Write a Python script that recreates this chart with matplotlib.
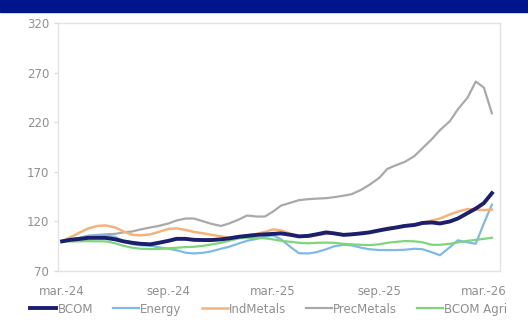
import matplotlib
matplotlib.use("Agg")
import matplotlib.pyplot as plt
import matplotlib.patches as mpatches
import pandas as pd

# semi-monthly observations, rebased to 100 at mar-24
dates = pd.date_range("2024-03-01", periods=50, freq="SMS")

bcom = [100, 101.5, 102.5, 103.5, 103.5, 103.5, 102, 100, 98.5, 97.5,
        97, 98.5, 100.5, 102.5, 102.5, 101.5, 101.3, 101.3, 102, 103,
        104.6, 105.5, 106.5, 107, 107.5, 108, 106.5, 105, 105.5, 107,
        109, 108, 106.5, 107, 108, 109, 111, 112.5, 114, 115.5,
        116.5, 118.5, 119, 118, 120, 123, 128.5, 133, 138.5, 148.5]
energy = [100, 102, 103.5, 105.5, 106, 106, 104.5, 100, 97, 96,
          95.5, 94, 92.5, 91, 88.5, 87.8, 88.5, 90, 92.5, 94.5,
          97.9, 100.5, 102.5, 104.5, 106, 102, 94, 88, 87.8, 89,
          92, 95, 96.5, 96, 93.5, 92, 91.2, 91.2, 91.2, 91.5,
          92.5, 92, 89, 86, 94, 101, 99, 97.5, 118, 137]
ind_metals = [100, 104, 109, 113, 115.5, 116, 114, 110, 106.5, 106,
              107, 109.5, 112.5, 113, 111.5, 109.5, 108, 106.5, 105, 103.5,
              104.5, 106, 107.5, 109.5, 112, 111, 107.5, 105, 104.5, 106,
              107.5, 108, 107, 107.5, 108.5, 109.5, 111.5, 113.5, 114.5, 116,
              117, 119, 121, 123, 127, 130, 132.5, 132, 131.5, 132]
prec_metals = [100, 101.5, 103.5, 105.5, 106.5, 107, 107.5, 109, 110, 112,
               114, 115.5, 118, 121, 123, 123, 120, 117.5, 115.5, 118,
               122, 126, 125, 125, 130, 136, 139, 141.5, 142.5, 143,
               143.5, 144.5, 146, 147.5, 152, 157, 164, 173, 177, 180,
               186, 194, 203, 212, 221, 233, 245, 261, 255, 229]
agri = [100, 99.8, 100, 100.2, 100, 100, 98, 95.5, 93.5, 92.5,
        92.2, 92.2, 93, 93.5, 94.2, 94.5, 95.5, 96.9, 98.5, 100.5,
        103, 103.5, 103.4, 103, 102, 100.5, 99.5, 98.5, 98, 98.5,
        98.7, 98.5, 97.5, 97, 96.5, 96.2, 97, 98.5, 99.5, 100.3,
        100, 99, 96.5, 96.5, 97.5, 99, 100.5, 101.5, 102.5, 103.6]

tick_dates = pd.to_datetime(["2024-03-01", "2024-09-01", "2025-03-01",
                             "2025-09-01", "2026-03-01"])
tick_labels = ["mar.-24", "sep.-24", "mar.-25", "sep.-25", "mar.-26"]
y_ticks = [70, 120, 170, 220, 270, 320]

fig = plt.figure(figsize=(5.28, 3.29), dpi=100)
ax = fig.add_axes([0.110, 0.176, 0.837, 0.754])

# dark blue band along the top edge
fig.patches.append(mpatches.Rectangle((0, 1 - 12 / 329), 1, 12 / 329,
                                      transform=fig.transFigure,
                                      color="#00148C", zorder=0))

ax.plot(dates, bcom, color="#1B1F6E", lw=2.8, label="BCOM", zorder=6)
ax.plot(dates, energy, color="#80B9E8", lw=1.6, label="Energy", zorder=3)
ax.plot(dates, ind_metals, color="#F5B27A", lw=1.8, label="IndMetals", zorder=5)
ax.plot(dates, prec_metals, color="#A9A9A9", lw=1.6, label="PrecMetals", zorder=2)
ax.plot(dates, agri, color="#7ED67A", lw=1.6, label="BCOM Agri", zorder=4)

ax.set_xlim(pd.Timestamp("2024-02-23"), pd.Timestamp("2026-03-29"))
ax.set_ylim(70, 320)
ax.set_yticks(y_ticks)
ax.set_xticks(tick_dates)
ax.set_xticklabels(tick_labels)

for s in ax.spines.values():
    s.set_color("#E3E3E3")
    s.set_linewidth(1)
ax.tick_params(axis="both", colors="#D8D8D8", labelcolor="#8F8F8F",
               labelsize=8.5, length=3)
ax.tick_params(axis="x", length=0, pad=10)

ax.legend(loc="center", bbox_to_anchor=(0.477, -0.153), ncol=5,
          frameon=False, fontsize=8.5, handlelength=2.2, handletextpad=0.1,
          columnspacing=1.7, labelcolor="#8F8F8F")

fig.savefig("out.png", dpi=100)
